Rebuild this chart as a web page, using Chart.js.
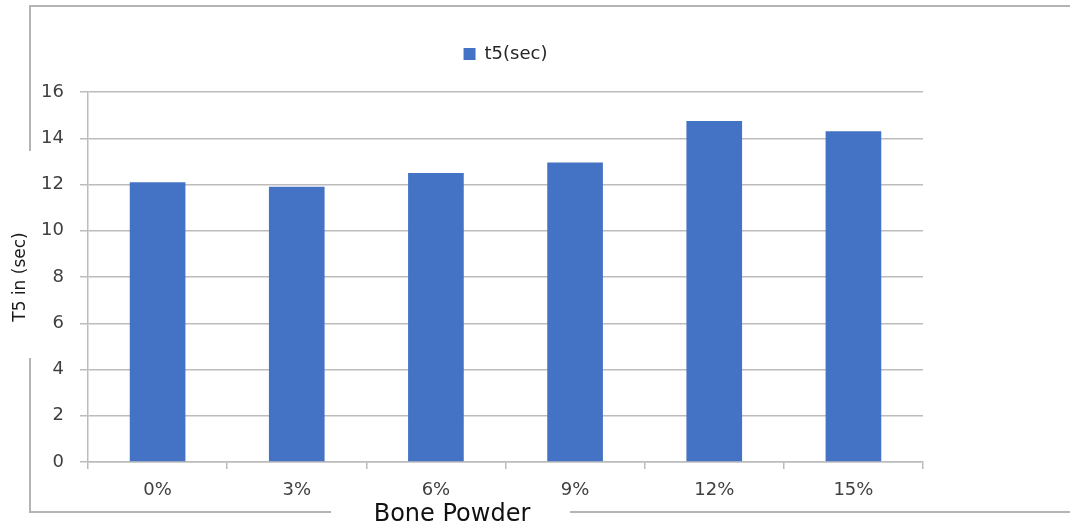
<!DOCTYPE html>
<html>
<head>
<meta charset="utf-8">
<script src="https://cdn.jsdelivr.net/npm/chart.js@4/dist/chart.umd.min.js"></script>
<style>
  html, body { margin: 0; padding: 0; background: #ffffff; }
  #wrap { position: relative; width: 1070px; height: 527px; overflow: hidden; }
  #chart { position: absolute; left: -19px; top: 0; }
  .frame { position: absolute; background: #b4b4b4; pointer-events: none; }
</style>
</head>
<body>
<div id="wrap">
  <canvas id="chart" width="1089" height="527"></canvas>
  <!-- outer frame of the chart panel -->
  <div class="frame" style="left:29px; top:5px; width:1041px; height:2px;"></div>
  <div class="frame" style="left:29px; top:5px; width:2px; height:146px;"></div>
  <div class="frame" style="left:29px; top:358px; width:2px; height:154px;"></div>
  <div class="frame" style="left:29px; top:511px; width:302px; height:2px;"></div>
  <div class="frame" style="left:570px; top:511px; width:500px; height:2px;"></div>
</div>
<script>
// Bone powder content and the measured T5 time
const categories = ['0%', '3%', '6%', '9%', '12%', '15%'];
const t5Values = [12.1, 11.9, 12.5, 12.95, 14.75, 14.3];
const seriesName = 't5(sec)';
const yTitle = 'T5 in (sec)';
const xTitle = 'Bone Powder';

const FONT = "'DejaVu Sans', 'Open Sans', sans-serif";
const GRID = '#bcbcbc';

new Chart(document.getElementById('chart'), {
  type: 'bar',
  data: {
    labels: categories,
    datasets: [{
      label: seriesName,
      data: t5Values,
      backgroundColor: '#4472c4',
      borderWidth: 0,
      categoryPercentage: 1.0,
      barPercentage: 0.4
    }]
  },
  options: {
    responsive: false,
    animation: false,
    layout: { padding: { left: 0, right: 147, top: 17, bottom: 0 } },
    plugins: {
      tooltip: { enabled: false },
      legend: {
        position: 'top',
        fullSize: false,
        labels: {
          boxWidth: 12,
          boxHeight: 12,
          padding: 28,
          color: '#262626',
          font: { family: FONT, size: 18 }
        }
      },
      // empty spacer line between the legend and the plot
      subtitle: {
        display: true,
        text: '',
        weight: 500,
        fullSize: false,
        font: { size: 1, lineHeight: 1 },
        padding: { top: 9, bottom: 9 }
      },
      // category axis caption along the bottom edge
      title: {
        display: true,
        position: 'bottom',
        fullSize: true,
        text: xTitle,
        color: '#111111',
        font: { family: FONT, size: 24, weight: 'normal', lineHeight: 1.0 },
        padding: { top: 0, bottom: 0 }
      }
    },
    scales: {
      x: {
        grid: {
          offset: true,
          drawOnChartArea: false,
          drawTicks: true,
          tickLength: 7,
          color: GRID,
          lineWidth: 1.5
        },
        border: { display: true, color: GRID, width: 1.5 },
        ticks: {
          color: '#404040',
          padding: 11,
          font: { family: FONT, size: 18 }
        },
        afterFit(scale) { scale.height = 41; }
      },
      y: {
        min: 0,
        max: 16,
        ticks: {
          stepSize: 2,
          color: '#404040',
          padding: 16,
          font: { family: FONT, size: 18 }
        },
        grid: {
          drawTicks: true,
          tickLength: 8,
          color: GRID,
          lineWidth: 1.5
        },
        border: { display: true, color: GRID, width: 1.5 },
        title: {
          display: true,
          text: yTitle,
          color: '#1a1a1a',
          font: { family: FONT, size: 17, lineHeight: 1.2 },
          padding: { top: 29, bottom: 0 }
        },
        afterFit(scale) { scale.width = 107; }
      }
    }
  }
});
</script>
</body>
</html>
